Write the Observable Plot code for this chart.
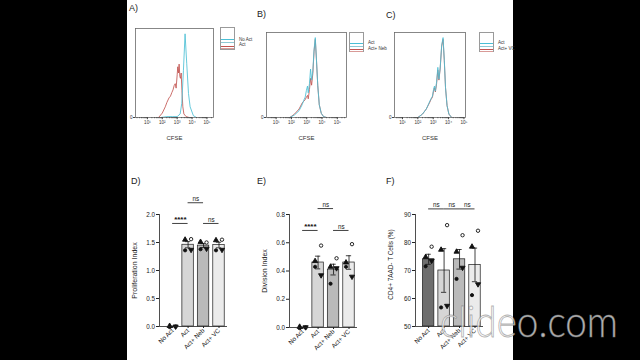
<!DOCTYPE html>
<html><head><meta charset="utf-8">
<script src="https://cdn.jsdelivr.net/npm/d3@7"></script>
<script src="https://cdn.jsdelivr.net/npm/@observablehq/plot@0.6"></script>
<style>
html,body{margin:0;padding:0;background:#000;width:640px;height:360px;overflow:hidden;font-family:"Liberation Sans",Arial,sans-serif;}
#page{position:absolute;left:127px;top:0;width:386px;height:360px;background:#fff;}
.panel{position:absolute;}
.panel svg{display:block;overflow:visible;}
.lab{position:absolute;font-size:9px;color:#222;line-height:1;}
.legbox{position:absolute;border:0.8px solid #9a9a9a;background:#fff;box-sizing:border-box;width:15px;}
.legline{position:absolute;left:0;right:0;height:1.2px;}
.legtxt{position:absolute;font-size:4.5px;color:#333;white-space:nowrap;line-height:1;}
#wm{position:absolute;left:0;top:0;pointer-events:none;}
</style></head><body>
<div id="page"></div>
<div id="root"></div>
<svg id="wm" width="640" height="360"><text x="440" y="337" font-family="Lato" font-weight="300" font-size="43" textLength="178" lengthAdjust="spacingAndGlyphs" fill="rgba(255,255,255,0.74)" stroke="rgba(110,110,110,0.55)" stroke-width="0.9">clideo.com</text></svg>
<script>
// ---------- data ----------
const groups = ["No Act", "Act", "Act+ Neb", "Act+ VC"];
const barFill = ["#6e6e6e", "#d6d6d6", "#bababa", "#ebebeb"];

// D) Proliferation index  (per group: mean, sem, subjects [open circle, triangle, filled circle, down triangle])
const profMean = [0.0, 1.46, 1.445, 1.455];
const profSem  = [0.005, 0.055, 0.035, 0.05];
const profPts  = [[0.0, 0.01, -0.01, 0.0], [1.56, 1.55, 1.36, 1.37], [1.50, 1.51, 1.38, 1.39], [1.55, 1.54, 1.36, 1.37]];
const profTicks = [0, 0.5, 1.0, 1.5, 2.0];
const profSig = [["No Act", "Act", "****", 1.84], ["Act", "Act+ Neb", "ns", 2.21], ["Act+ Neb", "Act+ VC", "ns", 1.84]];

// E) Division index
const divMean = [0.0, 0.46, 0.41, 0.46];
const divSem  = [0.003, 0.045, 0.038, 0.048];
const divPts  = [[0.0, 0.005, -0.005, 0.002], [0.58, 0.47, 0.43, 0.37], [0.49, 0.43, 0.31, 0.42], [0.59, 0.46, 0.43, 0.36]];
const divTicks = [0, 0.2, 0.4, 0.6, 0.8];
const divSig = [["No Act", "Act", "****", 0.687], ["Act", "Act+ Neb", "ns", 0.842], ["Act+ Neb", "Act+ VC", "ns", 0.687]];

// F) CD4+ 7AAD- T cells (%)
const vivMean = [74.0, 70.0, 74.0, 72.0];
const vivSem  = [1.8, 7.8, 3.5, 6.0];
const vivPts  = [[78.5, 74.8, 71.5, 73.5], [86.2, 77.4, 56.8, 57.4], [82.6, 76.7, 67.0, 71.0], [84.2, 78.5, 61.2, 65.1]];
const vivTicks = [50, 60, 70, 80, 90];
const vivSig = [["No Act", "Act", "ns", 92], ["Act", "Act+ Neb", "ns", 92], ["Act+ Neb", "Act+ VC", "ns", 92]];

// CFSE histograms: x = log10(CFSE), y = % of max count
const cfseTicks = [1, 2, 3, 4, 5];
const histA_noAct_x = [1.9, 2.3, 2.7, 3.0, 3.2, 3.31, 3.42, 3.53, 3.64, 3.76, 3.87, 4.09, 4.3];
const histA_noAct_y = [0, 1, 1, 1, 4, 16, 53, 94, 61, 27, 12, 2, 0];
const histA_act_x = [1.75, 2.0, 2.2, 2.31, 2.45, 2.55, 2.64, 2.72, 2.8, 2.87, 2.93, 3.0, 3.04, 3.09, 3.13, 3.18, 3.22, 3.27, 3.32, 3.38, 3.45, 3.6, 3.8];
const histA_act_y = [0, 5, 12, 17, 22, 24, 28, 31, 36, 38, 33, 48, 57, 50, 60, 46, 44, 50, 30, 12, 4, 1, 0];
const histB_act_x = [1.9, 2.2, 2.5, 2.7, 2.8, 2.9, 2.98, 3.05, 3.1, 3.18, 3.25, 3.32, 3.4, 3.48, 3.56, 3.63, 3.72, 3.82, 3.95, 4.1, 4.3];
const histB_act_y = [0, 4, 10, 17, 19, 21, 24, 26, 22, 33, 46, 38, 52, 78, 92, 70, 38, 15, 5, 1, 0];
const histB_neb_x = [1.9, 2.2, 2.5, 2.7, 2.8, 2.9, 2.98, 3.05, 3.1, 3.18, 3.25, 3.32, 3.4, 3.48, 3.56, 3.63, 3.72, 3.82, 3.95, 4.1, 4.3];
const histB_neb_y = [0, 3, 8, 15, 20, 24, 32, 37, 29, 40, 57, 44, 55, 80, 94, 70, 38, 15, 5, 1, 0];
const histC_act_x = [2.0, 2.3, 2.55, 2.75, 2.85, 2.95, 3.02, 3.08, 3.14, 3.22, 3.3, 3.37, 3.45, 3.55, 3.64, 3.72, 3.8, 3.9, 4.02, 4.2];
const histC_act_y = [0, 4, 10, 17, 21, 24, 31, 35, 30, 40, 56, 44, 57, 84, 92, 67, 35, 14, 4, 0];
const histC_vc_x = [2.0, 2.3, 2.55, 2.75, 2.85, 2.95, 3.02, 3.08, 3.14, 3.22, 3.3, 3.37, 3.45, 3.55, 3.64, 3.72, 3.8, 3.9, 4.02, 4.2];
const histC_vc_y = [0, 4, 10, 18, 22, 25, 33, 37, 31, 42, 59, 45, 58, 85, 94, 68, 35, 14, 4, 0];

// ---------- helpers ----------
const CYAN = "#4bbfd5", RED = "#c25450";
const FONT = "Liberation Sans, Arial, sans-serif";
const sup = {1: "\u00b9", 2: "\u00b2", 3: "\u00b3", 4: "\u2074", 5: "\u2075"};
const root = document.getElementById("root");

function place(node, left, top) {
  const d = document.createElement("div");
  d.className = "panel";
  d.style.left = left + "px"; d.style.top = top + "px";
  d.appendChild(node);
  root.appendChild(d);
}
function label(txt, left, top) {
  const d = document.createElement("div");
  d.className = "lab"; d.textContent = txt;
  d.style.left = left + "px"; d.style.top = top + "px";
  root.appendChild(d);
}
function legend(left, top, h, names, lineYs) {
  const b = document.createElement("div");
  b.className = "legbox";
  b.style.left = left + "px"; b.style.top = top + "px"; b.style.height = h + "px";
  lineYs.forEach(([y, c]) => {
    const l = document.createElement("div");
    l.className = "legline"; l.style.top = y + "px"; l.style.background = c;
    b.appendChild(l);
  });
  root.appendChild(b);
  names.forEach(([t, y]) => {
    const s = document.createElement("div");
    s.className = "legtxt"; s.textContent = t;
    s.style.left = (left + 19) + "px"; s.style.top = y + "px";
    root.appendChild(s);
  });
}

function minorTicks(dom) {
  const out = [];
  for (let d = 0; d <= 5; d++) for (let k = 2; k <= 9; k++) {
    const v = d + Math.log10(k);
    if (v >= dom[0] && v <= dom[1]) out.push(v);
  }
  return out;
}

function histPanel(o) {
  const mL = 8, mR = 3, mT = 3, mB = 28;
  const lines = o.series.map(s =>
    Plot.line(s.x.map((x, i) => ({x, y: s.y[i]})), {x: "x", y: "y", stroke: s.color, strokeWidth: 0.85}));
  const chart = Plot.plot({
    width: mL + o.fw + mR, height: mT + o.fh + mB,
    marginLeft: mL, marginRight: mR, marginTop: mT, marginBottom: mB,
    style: {fontFamily: FONT, fontSize: "4.6px", color: "#333", background: "transparent"},
    x: {domain: o.domain},
    y: {domain: [0, 100]},
    marks: [
      ...lines,
      Plot.frame({stroke: "#6a6a6a", strokeWidth: 0.8}),
      Plot.axisX({ticks: minorTicks(o.domain), tickSize: 1.2, tickFormat: () => "", label: null, stroke: "#555"}),
      Plot.axisX({ticks: cfseTicks, tickSize: 2.2, tickPadding: 1.2, tickFormat: d => "10" + sup[d], label: null, stroke: "#444"}),
      Plot.axisY({ticks: [0], tickSize: 2, tickPadding: 1, tickFormat: () => "0", label: null, stroke: "#444"}),
      Plot.text(["CFSE"], {frameAnchor: "bottom", dy: 22, text: d => d, fontSize: 6, fill: "#333"})
    ]
  });
  place(chart, o.left - mL, o.top - mT);
}

const triDown = {
  draw(ctx, size) {
    const y = -Math.sqrt(size / (Math.sqrt(3) * 3));
    ctx.moveTo(0, -y * 2);
    ctx.lineTo(-Math.sqrt(3) * y, y);
    ctx.lineTo(Math.sqrt(3) * y, y);
    ctx.closePath();
  }
};

function barPanel(o) {
  const mL = 32, mR = 4, mT = 30, mB = 34, fw = 68;
  const fh = o.zeroY - o.topY;
  const ymin = o.domain[0];
  const xdom = [-0.85, 3.55];
  const rows = groups.map((g, i) => ({i, m: o.mean[i], s: o.sem[i], c: barFill[i]}));
  const pts = [];
  o.pts.forEach((arr, i) => arr.forEach((v, k) => pts.push({i, v, k})));
  const sig = o.sig.map(([a, b, t, y]) => ({a: groups.indexOf(a), b: groups.indexOf(b), t, y}));
  const subj = [
    {symbol: "circle", fill: "white", r: 1.7, dx: 3},
    {symbol: "triangle", fill: "#111", r: 1.9, dx: -3},
    {symbol: "circle", fill: "#111", r: 1.6, dx: -3},
    {symbol: triDown, fill: "#111", r: 1.9, dx: 3}
  ];
  const chart = Plot.plot({
    width: mL + fw + mR, height: mT + fh + mB,
    marginLeft: mL, marginRight: mR, marginTop: mT, marginBottom: mB,
    style: {fontFamily: FONT, fontSize: "6.3px", color: "#222", background: "transparent"},
    x: {domain: xdom},
    y: {domain: o.domain},
    color: {type: "identity"},
    marks: [
      Plot.rectY(rows, {x1: d => d.i - 0.37, x2: d => d.i + 0.37, y1: () => ymin, y2: "m", fill: d => d.c, stroke: "#1a1a1a", strokeWidth: 0.7}),
      Plot.ruleX(rows, {x: "i", y1: d => d.m - d.s, y2: d => d.m + d.s, stroke: "#111", strokeWidth: 0.8}),
      Plot.ruleY(rows, {y: d => d.m + d.s, x1: d => d.i - 0.17, x2: d => d.i + 0.17, stroke: "#111", strokeWidth: 0.8}),
      Plot.ruleY(rows, {y: d => d.m - d.s, x1: d => d.i - 0.17, x2: d => d.i + 0.17, stroke: "#111", strokeWidth: 0.8}),
      ...subj.map((s, k) => Plot.dot(pts.filter(p => p.k === k), {x: "i", y: "v", dx: s.dx, symbol: s.symbol, r: s.r, fill: s.fill, stroke: "#111", strokeWidth: 0.9})),
      Plot.ruleX([xdom[0]], {stroke: "#222", strokeWidth: 0.8}),
      Plot.ruleY([ymin], {stroke: "#222", strokeWidth: 0.8}),
      Plot.axisY({ticks: o.ticks, tickFormat: o.fmt, tickSize: 3, tickPadding: 1.5, label: null, stroke: "#222"}),
      Plot.axisX({ticks: [0, 1, 2, 3], tickFormat: i => groups[i], tickRotate: -45, tickSize: 2, tickPadding: 1, label: null, stroke: "#222"}),
      Plot.text([o.title], {frameAnchor: "left", textAnchor: "middle", lineAnchor: "middle", rotate: -90, dx: -25, dy: o.titleShift, text: d => d, fontSize: o.titleSize, fill: "#222"}),
      Plot.ruleY(sig, {y: "y", x1: "a", x2: "b", stroke: "#111", strokeWidth: 0.8}),
      Plot.text(sig.filter(d => d.t !== "ns"), {x: d => (d.a + d.b) / 2, y: "y", text: "t", dy: -1.2, lineAnchor: "bottom", fontSize: 8, fontWeight: "bold", fill: "#111"}),
      Plot.text(sig.filter(d => d.t === "ns"), {x: d => (d.a + d.b) / 2, y: "y", text: "t", dy: -1.5, lineAnchor: "bottom", fontSize: 6.3, fill: "#222"})
    ]
  });
  place(chart, o.axisX - mL, o.topY - mT);
}

// ---------- top row ----------
histPanel({left: 135, top: 28, fw: 78, fh: 89, domain: [0.2, 5.44], series: [
  {x: histA_act_x, y: histA_act_y, color: RED},
  {x: histA_noAct_x, y: histA_noAct_y, color: CYAN}]});
histPanel({left: 266, top: 32, fw: 80, fh: 85, domain: [0.37, 5.6], series: [
  {x: histB_act_x, y: histB_act_y, color: RED},
  {x: histB_neb_x, y: histB_neb_y, color: CYAN}]});
histPanel({left: 394, top: 32, fw: 71, fh: 85, domain: [0.48, 5.1], series: [
  {x: histC_act_x, y: histC_act_y, color: RED},
  {x: histC_vc_x, y: histC_vc_y, color: CYAN}]});

legend(220, 27, 23, [["No Act", 37.5], ["Act", 42.5]], [[11, CYAN], [13.5, "#8fc9d4"], [17.5, RED], [19.5, "#d99a97"]]);
legend(349, 32, 20, [["Act", 41], ["Act+ Neb", 46.5]], [[10, CYAN], [12.5, "#8fc9d4"], [15.5, RED], [17.5, "#d99a97"]]);
legend(479, 32, 20, [["Act", 41], ["Act+ VC", 46.5]], [[10, CYAN], [12.5, "#8fc9d4"], [15.5, RED], [17.5, "#d99a97"]]);

// ---------- bottom row ----------
barPanel({axisX: 159, topY: 214, zeroY: 326, domain: [0, 2], ticks: profTicks, fmt: d3.format(".1f"), titleShift: 0, titleSize: 7,
  title: "Proliferation Index", mean: profMean, sem: profSem, pts: profPts, sig: profSig});
barPanel({axisX: 289, topY: 214, zeroY: 327, domain: [0, 0.8], ticks: divTicks, fmt: d3.format(".1f"), titleShift: 0, titleSize: 7,
  title: "Division Index", mean: divMean, sem: divSem, pts: divPts, sig: divSig});
barPanel({axisX: 415, topY: 214, zeroY: 326, domain: [50, 90], ticks: vivTicks, fmt: d3.format("d"), titleShift: -6, titleSize: 6.4,
  title: "CD4+ 7AAD- T Cells (%)", mean: vivMean, sem: vivSem, pts: vivPts, sig: vivSig});

// ---------- panel letters ----------
label("A)", 129, 4);
label("B)", 257, 10);
label("C)", 386, 11);
label("D)", 131, 177);
label("E)", 257, 177);
label("F)", 386, 177);
</script>
</body></html>
